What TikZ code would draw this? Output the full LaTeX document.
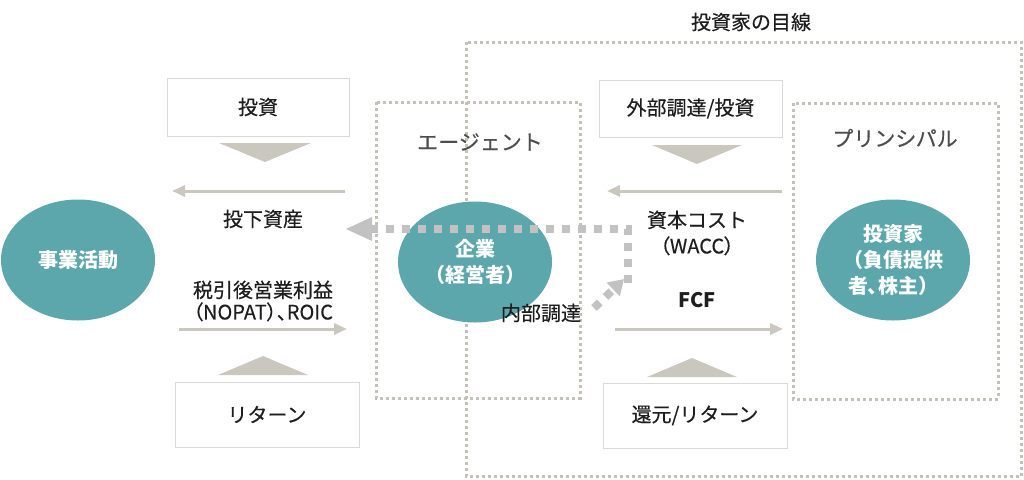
\documentclass[tikz,border=0pt]{standalone}
\usepackage{fontspec}
\setmainfont{Noto Sans CJK JP}
\newfontfamily\medfont[FakeBold=0.35]{Noto Sans CJK JP}
\newfontfamily\paltfont[RawFeature=+palt,FakeBold=0.35]{Noto Sans CJK JP}
\newfontfamily\paltbfont[RawFeature=+palt]{Noto Sans CJK JP}
\usetikzlibrary{arrows.meta,shapes.geometric}
\definecolor{tealc}{HTML}{5CA7AC}
\definecolor{arrc}{HTML}{C9C7BE}
\definecolor{dotc}{HTML}{C3C1B9}
\definecolor{boxb}{HTML}{D9D9D9}
\definecolor{txtc}{HTML}{1E1E1E}
\definecolor{labc}{HTML}{4D4D4D}
\definecolor{thickc}{HTML}{C2C2C2}
\tikzset{
  txt/.style={text=txtc,font=\medfont\fontsize{20}{24}\selectfont,inner sep=0pt,align=center},
  labelbox/.style={txt,draw=boxb,line width=1pt,fill=white},
  oval/.style={ellipse,fill=tealc,text=white,font=\fontsize{20}{26}\selectfont\bfseries,align=center,minimum width=154pt,minimum height=121pt,inner sep=0pt},
  dotbox/.style={draw=dotc,line width=3pt,dash pattern=on 3pt off 3pt},
  thinarrow/.style={draw=arrc,line width=3pt,-{Triangle[length=13pt,width=11pt]}},
  tri/.style={fill=arrc},
  thickdot/.style={draw=thickc,line width=8pt,dash pattern=on 8pt off 8pt},
  grouplabel/.style={text=labc,font=\medfont\fontsize{21}{24}\selectfont,inner sep=0pt}
}
\begin{document}
\begin{tikzpicture}[x=1pt,y=-1pt]
\useasboundingbox (0,0) rectangle (1024,479);
% dotted group boxes
\draw[dotbox] (466,42) rectangle (1021.5,476);
\draw[dotbox] (376,102) rectangle (580,398);
\draw[dotbox] (793,103) rectangle (998,399);
\node[txt] (viewlab) at (751,22) {投資家の目線};
\node[grouplabel] (agentlab) at (480,142) {エージェント};
\node[grouplabel] (princlab) at (895,138) {プリンシパル};
% boxes
\node[labelbox,minimum width=182pt,minimum height=58pt] (invest) at (258,107) {投資};
\node[labelbox,minimum width=184pt,minimum height=65pt] (ret) at (267,414.5) {リターン};
\node[labelbox,minimum width=183pt,minimum height=57pt] (extinv) at (690.5,108.5) {外部調達/投資};
\node[labelbox,minimum width=184pt,minimum height=65pt] (kangen) at (695,415.5) {還元/リターン};
% triangles
\fill[tri] (219,143) -- (311,143) -- (265,162) -- cycle;
\fill[tri] (218,375) -- (308,375) -- (263,356) -- cycle;
\fill[tri] (652,145) -- (742,145) -- (697,164) -- cycle;
\fill[tri] (647,377) -- (737,377) -- (692,358) -- cycle;
% ellipses
\node[oval] (biz) at (78,260) {事業活動};
\node[oval] (corp) at (475,262) {企業\\（経営者）};
\node[oval] (investor) at (893,260) {投資家\\（負債提供\\{\paltbfont\bfseries 者、}株主）};
% texts
\node[txt] (tokashisan) at (263,219) {投下資産};
\node[txt,font=\medfont\fontsize{20}{22}\selectfont] (nopat) at (263,301) {税引後営業利益\\{\paltfont （NOPAT）、ROIC}};
\node[txt,font=\medfont\fontsize{20}{26}\selectfont] (wacc) at (697,233) {資本コスト\\{\paltfont （WACC）}};
\node[txt,font=\fontsize{20}{24}\selectfont\bfseries] (fcf) at (697,300) {FCF};
% thin arrows
\coordinate (a1s) at (345,191); \coordinate (a1e) at (172,191);
\coordinate (a2s) at (179,329); \coordinate (a2e) at (347,329);
\coordinate (a3s) at (782,191); \coordinate (a3e) at (607,191);
\coordinate (a4s) at (615,329); \coordinate (a4e) at (783,329);
\draw[thinarrow] (a1s) -- (a1e);
\draw[thinarrow] (a2s) -- (a2e);
\draw[thinarrow] (a3s) -- (a3e);
\draw[thinarrow] (a4s) -- (a4e);
% thick dotted arrows
\coordinate (d0) at (594,308);
\coordinate (d1) at (624,279);
\coordinate (d2) at (627.5,283);
\coordinate (d3) at (627.5,229);
\coordinate (d4) at (346,229);
\draw[thickdot] (d2) -- (d3) -- ([xshift=24pt]d4);
\fill[thickc] (d4) -- ++(26,-12) -- ++(0,24) -- cycle;
\draw[thickdot,-{Triangle[length=15pt,width=18pt]}] (d0) -- (d1);
\node[txt] (naibu) at (541,313) {内部調達};
\end{tikzpicture}
\end{document}
